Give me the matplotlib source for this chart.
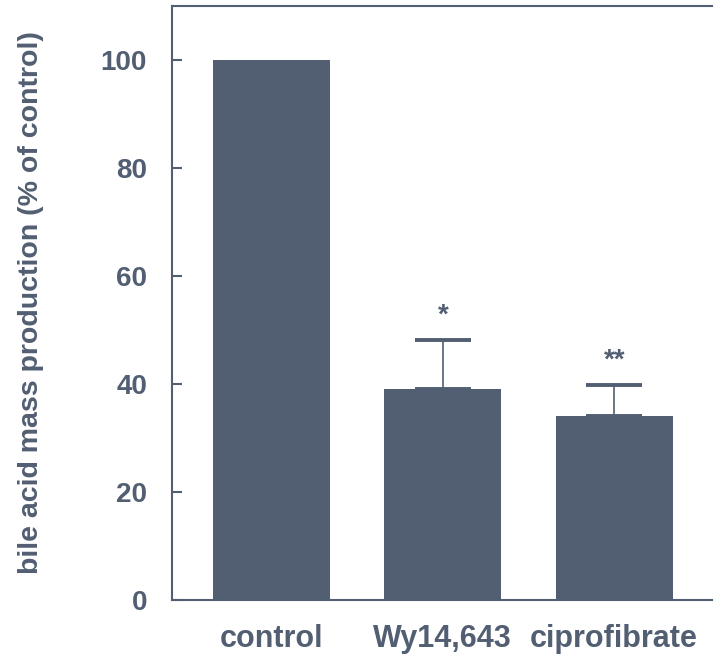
import matplotlib.pyplot as plt
import numpy as np

# bile acid mass production relative to control
grupos = ["control", "Wy14,643", "ciprofibrate"]
valores = [100, 39.1, 34.1]
errores = [0, 9.0, 5.8]
marcas = ["", "*", "**"]

color = "#525e72"

plt.rcParams["font.family"] = ["Liberation Sans", "DejaVu Sans"]
plt.rcParams["font.weight"] = "bold"

fig = plt.figure(figsize=(7.15, 6.57), dpi=100)
ax = fig.add_axes([0.2406, 0.0868, 0.755, 0.904])

x = np.arange(len(grupos))
ax.bar(x, valores, width=0.682, color=color, zorder=2)

# error bars only upward
for xi, v, e, m in zip(x, valores, errores, marcas):
    if e > 0:
        ax.errorbar(xi, v, yerr=[[0], [e]], fmt="none", ecolor=color,
                    elinewidth=1.2, capsize=20, capthick=2.8, zorder=3)
        ax.text(xi, v + e + 4.5, m, ha="center", va="center",
                fontsize=20, fontweight="bold", color=color)

ax.set_xlim(-0.58, 2.57)
ax.set_ylim(0, 110)
ax.set_yticks([0, 20, 40, 60, 80, 100])
ax.set_xticks(x)
ax.set_xticklabels(grupos)

ax.spines["right"].set_visible(False)
for s in ["left", "bottom", "top"]:
    ax.spines[s].set_color(color)
    ax.spines[s].set_linewidth(1.5)

ax.tick_params(axis="y", direction="in", length=7, width=1.5, color=color,
               labelsize=20, labelcolor=color, pad=18)
ax.tick_params(axis="x", length=0, labelsize=22, labelcolor=color, pad=17)

ax.set_ylabel("bile acid mass production (% of control)", fontsize=20.5,
              fontweight="bold", color=color)
ax.yaxis.set_label_coords(-0.237, 0.5)

fig.savefig("out.png", dpi=100)
